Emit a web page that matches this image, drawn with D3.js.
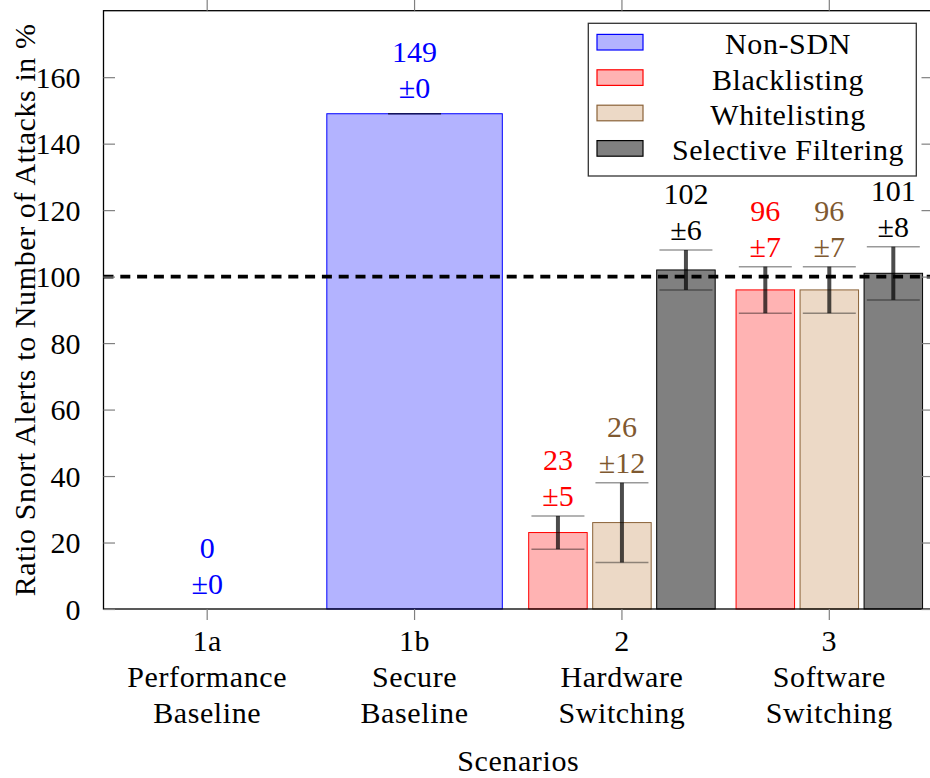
<!DOCTYPE html>
<html>
<head>
<meta charset="utf-8">
<script src="https://cdn.jsdelivr.net/npm/d3@7"></script>
<style>
  html, body { margin: 0; padding: 0; background: #fff; }
  svg { display: block; }
  svg text { font-family: "Liberation Serif", "DejaVu Serif", serif; }
  .wide { letter-spacing: 0.6px; }
</style>
</head>
<body>
<svg id="chart" width="930" height="778" font-family="Liberation Serif, serif"></svg>
<script>
// ---- data ----
const categories = ["1a", "1b", "2", "3"];
const categoryLines = [["1a", "Performance", "Baseline"], ["1b", "Secure", "Baseline"], ["2", "Hardware", "Switching"], ["3", "Software", "Switching"]];
const seriesNames = ["Non-SDN", "Blacklisting", "Whitelisting", "Selective Filtering"];
const nonSdnValues = [0, 149, null, null];
const nonSdnErrors = [0, 0, null, null];
const blacklistValues = [null, null, 23, 96];
const blacklistErrors = [null, null, 5, 7];
const whitelistValues = [null, null, 26, 96];
const whitelistErrors = [null, null, 12, 7];
const selectiveValues = [null, null, 102, 101];
const selectiveErrors = [null, null, 6, 8];
const yTicks = [0, 20, 40, 60, 80, 100, 120, 140, 160];
const referenceLine = 100;
const yLabel = "Ratio Snort Alerts to Number of Attacks in %";
const xLabel = "Scenarios";

// ---- styles ----
const fills = ["#b3b3ff", "#ffb3b3", "#ecd9c6", "#808080"];
const strokes = ["#0000ff", "#ff0000", "#8a6238", "#000000"];
const labelColors = ["#0000ff", "#ff0000", "#7f5930", "#000000"];
const FONT = "Liberation Serif";

const series = seriesNames.map((name, i) => ({
  name, i,
  values: [nonSdnValues, blacklistValues, whitelistValues, selectiveValues][i],
  errors: [nonSdnErrors, blacklistErrors, whitelistErrors, selectiveErrors][i]
}));

const L = 103.5, R = 933, T = 10.7, B = 609;
const svg = d3.select("#chart");
const x = d3.scaleBand().domain(categories).range([L, R]).padding(0);
const y = d3.scaleLinear().domain([0, 180]).range([B, T]);
const FS = 30;

// build bar records
const bars = [];
categories.forEach((c, ci) => {
  const present = series.filter(s => s.values[ci] !== null);
  const center = x(c) + x.bandwidth() / 2;
  const inner = d3.scaleBand().domain(present.map(s => s.name))
    .range([center - 93.25, center + 93.25]).paddingInner(0.086);
  present.forEach(s => {
    let x0, w;
    if (present.length === 1) { w = 3 * 58.5; x0 = center - w / 2; }
    else { x0 = inner(s.name); w = inner.bandwidth(); }
    bars.push({ c, ci, s, v: s.values[ci], e: s.errors[ci], x0, w, cx: x0 + w / 2 });
  });
});

// bars
svg.append("g").selectAll("rect").data(bars.filter(d => d.v > 0)).join("rect")
  .attr("x", d => d.x0).attr("width", d => d.w)
  .attr("y", d => y(d.v)).attr("height", d => y(0) - y(d.v))
  .attr("fill", d => fills[d.s.i]).attr("stroke", d => strokes[d.s.i]).attr("stroke-width", 1);

// dashed reference line
svg.append("line").attr("x1", L).attr("x2", R).attr("y1", y(referenceLine)).attr("y2", y(referenceLine))
  .attr("stroke", "#000").attr("stroke-width", 3.6).attr("stroke-dasharray", "10 6.8");

// error bars
const eb = svg.append("g").selectAll("g").data(bars.filter(d => d.v > 0)).join("g");
eb.append("line").attr("x1", d => d.cx).attr("x2", d => d.cx)
  .attr("y1", d => y(d.v - d.e)).attr("y2", d => y(d.v + d.e))
  .attr("stroke", "rgba(0,0,0,0.7)").attr("stroke-width", 4);
[-1, 1].forEach(sg => {
  eb.append("line").attr("x1", d => d.cx - 26.5).attr("x2", d => d.cx + 26.5)
    .attr("y1", d => y(d.v + sg * d.e)).attr("y2", d => y(d.v + sg * d.e))
    .attr("stroke", "rgba(0,0,0,0.4)").attr("stroke-width", 1.5);
});

// value labels
const lab = svg.append("g").selectAll("g").data(bars).join("g")
  .attr("fill", d => labelColors[d.s.i]).attr("font-size", FS).attr("text-anchor", "middle")
  .attr("font-family", FONT);
lab.append("text").attr("x", d => d.cx)
  .attr("y", d => y(d.v + d.e) - (d.e === 0 ? 15.5 : 10))
  .text(d => "±" + d.e);
lab.append("text").attr("x", d => d.cx)
  .attr("y", d => y(d.v + d.e) - (d.e === 0 ? 15.5 : 10) - 36)
  .text(d => d.v);

// axes frame
svg.append("rect").attr("x", L).attr("y", T).attr("width", R - L).attr("height", B - T)
  .attr("fill", "none").attr("stroke", "#000").attr("stroke-width", 1.3);

// y ticks (inward, both sides)
const yAxisL = d3.axisLeft(y).tickValues(yTicks).tickSizeInner(-11.5).tickSizeOuter(0).tickPadding(23);
const gyl = svg.append("g").attr("transform", `translate(${L},0)`).call(yAxisL);
gyl.attr("font-family", FONT).attr("font-size", FS);
gyl.select(".domain").remove();
gyl.selectAll(".tick line").attr("stroke", "#808080").attr("stroke-width", 1.2);
gyl.selectAll(".tick text").attr("font-size", FS).attr("fill", "#000")
  .attr("font-family", FONT).attr("dy", "0.34em");
const yAxisR = d3.axisRight(y).tickValues(yTicks).tickSizeInner(-11.5).tickSizeOuter(0).tickFormat("");
const gyr = svg.append("g").attr("transform", `translate(${R},0)`).call(yAxisR);
gyr.select(".domain").remove();
gyr.selectAll(".tick line").attr("stroke", "#808080").attr("stroke-width", 1.2);

// x ticks (outward, both sides)
const xPos = c => x(c) + x.bandwidth() / 2;
const xAxisB = d3.axisBottom(x).tickSizeInner(11).tickSizeOuter(0).tickFormat("");
const gxb = svg.append("g").attr("transform", `translate(0,${B})`).call(xAxisB);
gxb.select(".domain").remove();
gxb.selectAll(".tick line").attr("stroke", "#808080").attr("stroke-width", 1.2);
const xAxisT = d3.axisTop(x).tickSizeInner(11).tickSizeOuter(0).tickFormat("");
const gxt = svg.append("g").attr("transform", `translate(0,${T})`).call(xAxisT);
gxt.select(".domain").remove();
gxt.selectAll(".tick line").attr("stroke", "#808080").attr("stroke-width", 1.2);

// x category labels (multi-line)
const xl = svg.append("g").selectAll("text").data(categories).join("text")
  .attr("class", "wide")
  .attr("x", c => xPos(c)).attr("y", B + 42).attr("text-anchor", "middle")
  .attr("font-size", FS).attr("font-family", FONT).attr("fill", "#000");
xl.selectAll("tspan").data((c, i) => categoryLines[i]).join("tspan")
  .attr("x", function () { return this.parentNode.getAttribute("x"); })
  .attr("dy", (d, j) => j === 0 ? 0 : 36).text(d => d);

// axis titles
svg.append("text").attr("class", "wide").attr("x", (L + R) / 2).attr("y", 771).attr("text-anchor", "middle")
  .attr("font-size", FS).attr("font-family", FONT).text(xLabel);
svg.append("text").attr("class", "wide").attr("transform", `translate(35,${(T + B) / 2}) rotate(-90)`)
  .attr("text-anchor", "middle").attr("font-size", FS).attr("font-family", FONT).text(yLabel);

// legend
const lg = svg.append("g");
lg.append("rect").attr("x", 588.3).attr("y", 23.3).attr("width", 328).attr("height", 152.7)
  .attr("fill", "#fff").attr("stroke", "#333").attr("stroke-width", 1.3);
const rows = lg.selectAll("g.row").data(series).join("g").attr("class", "row")
  .attr("transform", (d, i) => `translate(0,${42.2 + i * 35.4})`);
rows.append("rect").attr("x", 597).attr("y", -7.8).attr("width", 46).attr("height", 15.6)
  .attr("fill", d => fills[d.i]).attr("stroke", d => strokes[d.i]).attr("stroke-width", 1.2);
rows.append("text").attr("class", "wide").attr("x", 788).attr("y", 12).attr("text-anchor", "middle")
  .attr("font-size", FS).attr("font-family", FONT).text(d => d.name);
</script>
</body>
</html>
